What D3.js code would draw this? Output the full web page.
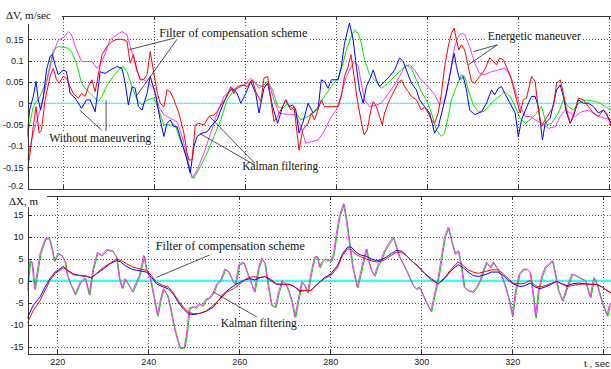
<!DOCTYPE html>
<html>
<head>
<meta charset="utf-8">
<script src="https://cdn.jsdelivr.net/npm/d3@7"></script>
<style>
  body { margin: 0; background: #fff; overflow: hidden; }
  svg { display: block; }
  .note { font-family: "Liberation Serif", "Times New Roman", serif; font-size: 12px; fill: #111; }
  .ylab { font-family: "Liberation Serif", "Times New Roman", serif; font-size: 11px; fill: #111; }
  .tlab { font-family: "Liberation Sans", Arial, sans-serif; font-size: 9.5px; fill: #222; }
</style>
</head>
<body>
<svg id="chart" width="611" height="369"></svg>
<script>
// ticks
const tTicks = [220, 240, 260, 280, 300, 320, 340];
const dvTicks = [-0.2, -0.15, -0.1, -0.05, 0, 0.05, 0.1, 0.15];
const dxTicks = [-15, -10, -5, 0, 5, 10, 15];

// top panel: dV, m/sec  -- [t, value]
const dvRed = [[211.9,-0.164],[212.6,-0.125],[213.4,-0.055],[214.0,-0.008],[214.7,-0.070],[215.2,-0.063],[216.0,0.008],[217.1,0.063],[217.8,0.082],[218.5,0.055],[219.1,0.047],[220.0,0.063],[220.7,0.059],[221.5,0.039],[222.2,0.023],[223.3,0.012],[224.0,0.023],[224.8,0.016],[225.5,0.039],[226.3,0.055],[227.0,0.027],[228.5,0.114],[229.6,0.133],[230.7,0.145],[231.8,0.150],[232.9,0.150],[234.0,0.145],[234.7,0.094],[235.4,0.114],[236.2,0.078],[236.9,0.055],[237.6,0.055],[238.4,0.067],[239.1,0.121],[239.9,0.070],[240.6,0.027],[241.3,0.000],[242.1,-0.008],[242.8,0.031],[243.5,0.027],[244.3,0.008],[245.4,-0.023],[246.5,-0.070],[247.2,-0.117],[247.6,-0.133],[248.3,-0.133],[249.0,-0.051],[249.8,-0.047],[250.9,-0.051],[252.0,-0.031],[253.1,-0.027],[253.8,-0.020],[254.9,0.000],[256.0,0.016],[256.8,0.039],[257.5,0.023],[258.2,0.039],[259.3,0.043],[260.4,0.039],[261.5,0.055],[262.3,0.027],[263.4,0.004],[264.1,0.059],[264.9,0.063],[265.6,0.008],[266.3,-0.043],[267.1,-0.031],[268.9,0.008],[270.0,-0.016],[270.7,-0.008],[271.8,-0.110],[272.6,-0.063],[273.8,-0.047],[274.5,-0.023],[275.2,-0.039],[276.7,0.008],[277.4,-0.008],[278.9,-0.008],[280.4,-0.008],[281.1,0.016],[281.8,0.063],[282.6,0.086],[283.2,0.114],[283.9,0.063],[284.6,0.008],[285.4,-0.039],[286.1,-0.074],[286.8,-0.063],[287.6,-0.016],[288.1,0.004],[288.8,-0.008],[289.5,-0.031],[290.1,-0.051],[290.6,-0.023],[291.7,0.008],[292.8,0.031],[293.6,0.047],[294.3,0.055],[295.0,0.039],[295.8,0.027],[296.5,0.016],[297.6,0.008],[298.7,-0.016],[299.4,-0.008],[300.2,-0.023],[300.9,-0.039],[301.6,-0.047],[302.4,-0.023],[303.1,0.023],[303.8,0.086],[304.6,0.133],[305.3,0.164],[305.9,0.176],[306.4,0.149],[306.9,0.125],[307.5,0.137],[308.2,0.125],[309.0,0.086],[309.7,0.051],[310.4,0.047],[311.5,0.063],[312.6,0.078],[313.7,0.106],[314.5,0.098],[315.2,0.090],[315.9,0.106],[316.7,0.102],[317.4,0.086],[318.5,0.055],[319.6,0.008],[320.4,-0.023],[321.1,0.008],[321.8,0.012],[322.9,0.063],[323.7,0.051],[324.4,-0.016],[325.1,-0.055],[325.9,-0.039],[327.7,-0.008],[328.4,0.047],[329.2,0.055],[329.9,0.023],[330.6,-0.016],[331.4,-0.047],[332.5,-0.016],[333.2,0.012],[334.3,0.008],[335.4,-0.008],[336.5,-0.023],[337.6,-0.031],[338.7,-0.016],[339.4,-0.023],[340.4,-0.055]];

const dvBlue = [[211.9,-0.086],[212.6,-0.016],[213.4,0.016],[214.0,0.051],[214.5,0.008],[215.0,-0.016],[215.6,0.012],[216.3,0.078],[217.1,0.110],[217.6,0.114],[218.2,0.090],[218.9,0.067],[220.0,0.078],[220.7,0.074],[221.5,0.023],[222.6,0.012],[224.0,-0.012],[225.1,0.008],[225.9,0.008],[227.0,-0.020],[228.1,0.074],[229.2,0.070],[230.3,0.078],[231.8,0.086],[232.9,0.082],[233.6,0.047],[234.3,-0.004],[235.1,0.039],[235.8,0.035],[236.5,-0.008],[237.3,-0.016],[238.4,0.023],[239.1,0.063],[240.2,0.023],[241.3,-0.039],[242.1,-0.078],[242.8,-0.047],[243.5,-0.039],[244.3,-0.055],[245.0,-0.055],[246.1,-0.094],[247.2,-0.133],[247.9,-0.164],[248.7,-0.102],[249.4,-0.078],[250.5,-0.070],[251.6,-0.067],[252.7,-0.051],[253.8,-0.039],[254.9,-0.008],[256.0,0.020],[257.1,0.035],[258.2,0.023],[259.0,0.000],[260.1,0.023],[261.2,0.051],[262.3,0.023],[263.0,-0.023],[264.1,0.035],[264.9,0.047],[266.0,-0.008],[267.1,-0.047],[268.2,-0.008],[268.9,0.008],[269.6,-0.008],[270.4,-0.004],[271.1,-0.016],[271.8,-0.070],[272.6,-0.047],[273.8,0.000],[274.9,-0.023],[276.0,-0.012],[276.7,0.055],[277.4,0.051],[278.2,0.035],[278.9,0.055],[280.4,0.055],[281.1,0.086],[281.8,0.141],[282.6,0.176],[282.9,0.188],[283.7,0.149],[284.4,0.086],[285.1,0.031],[285.9,0.000],[286.6,0.039],[287.3,0.055],[288.1,0.078],[288.8,0.055],[289.5,0.039],[290.6,0.051],[291.7,0.063],[292.8,0.078],[293.9,0.106],[294.7,0.098],[295.4,0.078],[296.5,0.047],[297.6,0.031],[298.3,0.008],[299.4,-0.008],[300.5,-0.023],[301.6,-0.070],[302.4,-0.055],[303.5,-0.008],[304.2,0.023],[305.3,0.086],[305.9,0.117],[306.4,0.086],[307.1,0.055],[307.9,0.063],[308.6,0.031],[309.3,-0.016],[310.4,-0.027],[311.9,-0.020],[313.0,0.000],[314.1,0.031],[314.8,0.020],[315.6,0.035],[316.3,0.039],[317.0,0.023],[318.2,0.000],[319.3,-0.023],[320.0,-0.078],[320.7,-0.039],[322.2,0.000],[322.9,0.016],[323.7,0.016],[324.4,-0.008],[325.3,-0.086],[325.9,-0.047],[327.0,-0.035],[328.4,0.031],[329.2,0.043],[329.9,0.016],[330.6,-0.023],[331.4,-0.047],[332.1,-0.031],[333.2,0.008],[334.3,0.000],[335.4,0.000],[336.5,-0.008],[337.6,-0.023],[338.7,-0.016],[339.4,-0.027],[340.4,-0.047]];

const dvGreen = [[211.9,-0.086],[213.4,-0.008],[214.9,0.016],[216.3,0.051],[217.8,0.125],[218.9,0.133],[220.0,0.131],[221.1,0.129],[221.8,0.121],[222.9,0.094],[224.0,0.047],[225.1,0.031],[226.6,0.016],[227.7,0.004],[228.5,0.016],[229.6,0.043],[231.0,0.063],[232.5,0.082],[233.2,0.086],[234.0,0.074],[235.1,0.039],[236.2,0.008],[237.3,-0.004],[238.4,0.008],[239.9,0.012],[241.0,-0.016],[242.1,-0.051],[243.5,-0.051],[244.6,-0.051],[245.7,-0.086],[246.8,-0.117],[247.9,-0.164],[248.7,-0.176],[250.1,-0.149],[251.6,-0.117],[253.1,-0.078],[254.6,-0.039],[256.0,0.008],[257.5,0.031],[259.0,0.039],[260.4,0.047],[261.9,0.051],[263.0,0.035],[264.1,0.043],[264.9,0.051],[266.0,0.031],[267.1,-0.008],[268.2,-0.012],[269.3,0.000],[270.7,-0.016],[272.2,-0.039],[274.5,-0.027],[276.0,-0.008],[277.4,0.016],[278.9,0.039],[280.4,0.059],[281.5,0.094],[282.2,0.125],[283.3,0.157],[284.0,0.172],[284.8,0.164],[285.5,0.141],[286.2,0.102],[287.3,0.067],[288.4,0.055],[289.9,0.035],[291.4,0.047],[292.8,0.063],[294.3,0.078],[295.4,0.090],[296.5,0.082],[297.6,0.055],[298.7,0.027],[299.8,0.008],[300.9,-0.023],[302.0,-0.063],[303.1,-0.078],[303.8,-0.070],[304.6,-0.031],[305.3,0.008],[306.4,0.039],[307.5,0.067],[308.2,0.063],[309.0,0.031],[310.1,-0.004],[311.2,-0.020],[312.3,-0.020],[313.4,-0.008],[314.8,0.008],[316.3,0.020],[317.0,0.027],[318.2,0.016],[319.3,-0.008],[320.4,-0.035],[321.5,-0.047],[322.6,-0.039],[323.7,-0.027],[325.1,-0.008],[326.2,-0.051],[327.3,-0.047],[328.8,-0.023],[329.9,0.008],[331.0,-0.008],[332.1,-0.016],[333.2,0.000],[334.7,0.008],[336.9,0.004],[338.0,0.000],[339.1,-0.008],[340.4,-0.016]];

const dvMagenta = [[211.9,-0.141],[213.4,-0.070],[214.9,-0.016],[216.3,0.047],[217.8,0.117],[218.9,0.149],[220.0,0.153],[221.1,0.168],[221.8,0.161],[222.9,0.125],[224.0,0.098],[225.1,0.098],[226.3,0.098],[227.4,0.082],[228.1,0.090],[228.8,0.106],[230.3,0.149],[231.8,0.161],[232.9,0.168],[234.0,0.161],[234.7,0.133],[235.4,0.110],[236.2,0.074],[236.9,0.059],[238.4,0.051],[239.9,0.035],[241.0,-0.008],[242.1,-0.027],[243.5,-0.035],[245.0,-0.043],[246.1,-0.078],[247.2,-0.125],[248.3,-0.176],[249.4,-0.157],[250.9,-0.117],[252.4,-0.070],[253.8,-0.023],[255.3,0.016],[256.8,0.031],[258.2,0.035],[259.7,0.043],[261.2,0.059],[262.6,0.043],[264.1,0.039],[265.2,0.047],[266.3,0.008],[267.4,-0.023],[269.3,-0.027],[271.1,-0.027],[272.2,-0.055],[273.3,-0.094],[274.5,-0.090],[276.0,-0.086],[277.1,-0.070],[278.2,-0.047],[278.9,-0.031],[280.0,-0.016],[281.1,0.020],[282.2,0.063],[283.3,0.086],[284.0,0.098],[284.8,0.086],[285.5,0.047],[286.2,0.008],[287.3,-0.008],[288.8,-0.004],[289.9,0.000],[291.0,0.016],[292.5,0.039],[293.9,0.063],[295.0,0.086],[296.1,0.090],[297.2,0.078],[298.3,0.059],[299.4,0.047],[300.5,0.035],[301.6,0.020],[302.7,-0.004],[303.8,0.008],[304.9,0.063],[306.0,0.133],[306.8,0.157],[307.5,0.164],[308.2,0.161],[309.3,0.133],[310.4,0.094],[311.5,0.070],[312.6,0.067],[314.1,0.074],[315.6,0.078],[317.0,0.082],[318.2,0.067],[319.3,0.031],[320.4,-0.008],[321.5,-0.031],[322.6,-0.031],[323.7,-0.039],[325.1,-0.047],[326.6,-0.059],[328.1,-0.055],[329.2,-0.031],[330.3,-0.016],[331.4,-0.023],[332.5,-0.031],[333.9,-0.020],[335.4,-0.016],[337.6,-0.031],[339.1,-0.035],[340.4,-0.039]];

// bottom panel: dX, m  -- [t, value]
const dxMagenta = [[213.3,-2.2],[214.0,4.6],[214.4,4.3],[215.0,-1.8],[216.2,6.2],[217.3,9.6],[218.2,9.8],[218.9,6.9],[219.3,4.6],[220.2,6.3],[221.0,5.8],[221.7,4.3],[222.2,1.2],[222.9,-0.7],[223.9,-3.0],[225.0,-0.3],[226.1,0.7],[227.0,-3.1],[227.8,2.7],[228.8,6.5],[229.7,5.8],[230.8,7.1],[232.1,6.9],[233.0,5.4],[233.6,0.7],[234.2,-1.6],[234.9,0.5],[235.6,-0.8],[236.5,-2.4],[237.3,-0.5],[238.0,1.2],[238.7,4.3],[239.0,5.8],[239.6,2.4],[240.4,0.7],[241.2,-3.6],[242.0,-7.9],[242.6,-4.5],[243.3,-1.8],[244.2,-3.3],[244.9,-6.4],[245.6,-10.2],[246.4,-13.5],[247.0,-15.3],[247.9,-15.1],[248.4,-12.1],[249.0,-6.2],[249.7,-5.9],[250.5,-6.0],[251.2,-5.2],[251.9,-5.6],[252.7,-4.1],[253.4,-3.9],[254.3,-2.6],[255.0,-0.7],[255.9,0.2],[256.8,2.7],[257.6,2.2],[258.5,0.1],[259.1,-0.8],[259.9,3.7],[260.9,4.3],[261.8,1.7],[262.7,-0.8],[263.3,-2.4],[264.2,3.0],[264.9,5.2],[265.6,4.0],[266.4,-1.6],[267.1,-5.6],[267.9,-5.9],[268.6,-2.6],[269.4,0.1],[270.1,-0.5],[270.8,-2.2],[271.6,-4.9],[272.2,-8.3],[273.0,-3.9],[273.7,-0.1],[274.4,-1.1],[275.0,-2.6],[275.7,1.6],[276.5,5.4],[277.1,5.6],[277.6,3.1],[278.1,4.3],[278.8,5.0],[280.1,4.6],[280.7,6.2],[281.3,10.7],[282.0,14.9],[282.9,17.6],[283.5,13.8],[284.2,8.4],[284.9,3.1],[285.9,-1.4],[286.6,1.6],[287.4,5.4],[287.9,7.3],[288.4,4.6],[289.0,2.4],[289.7,1.2],[290.4,3.5],[291.2,5.0],[291.9,6.9],[293.0,8.8],[293.8,10.0],[294.5,7.7],[295.2,5.4],[296.0,3.9],[296.7,2.4],[297.4,0.8],[298.2,-1.1],[298.9,-1.8],[299.6,-1.4],[300.1,-2.6],[300.9,-4.5],[302.1,-6.9],[302.9,-3.0],[303.7,0.8],[304.4,5.4],[305.1,10.0],[305.9,12.2],[306.6,9.2],[307.4,6.2],[308.1,6.9],[308.8,3.1],[309.4,-1.4],[310.3,-2.2],[311.4,-2.4],[312.1,-1.4],[312.9,0.1],[313.6,2.4],[314.3,4.3],[315.1,3.1],[315.8,4.3],[316.5,3.1],[317.6,1.2],[318.5,-1.4],[319.3,-4.5],[320.0,-7.9],[320.7,-2.2],[321.5,1.6],[322.4,2.7],[323.2,2.7],[323.9,2.0],[324.6,-3.7],[325.1,-8.3],[325.7,-2.2],[326.5,1.2],[327.2,3.1],[328.1,4.0],[328.8,4.6],[329.4,1.6],[330.1,-2.2],[331.0,-4.5],[332.0,-1.4],[333.1,1.6],[334.0,1.2],[334.9,0.7],[336.0,0.1],[337.1,-3.7],[337.9,0.8],[338.6,-0.7],[339.6,-4.5],[340.8,-7.9],[341.3,-5.6],[341.8,-5.2]];
// the green trace lies under the magenta one, only its edge shows
const dxGreen = dxMagenta;

const dxBlue = [[213.3,-8.7],[214.7,-5.6],[216.2,-3.7],[217.3,-1.4],[218.4,0.5],[219.5,2.0],[220.6,2.7],[221.3,3.3],[222.1,2.5],[223.5,1.6],[225.0,1.2],[226.4,1.0],[227.5,0.7],[228.6,1.6],[230.1,2.7],[231.6,3.9],[233.0,4.6],[233.8,4.4],[234.9,3.5],[236.3,2.7],[237.4,2.4],[238.5,2.2],[239.6,2.0],[240.7,0.8],[241.8,-0.7],[243.3,-1.4],[244.4,-1.8],[245.5,-3.0],[246.6,-4.9],[247.7,-6.4],[248.8,-7.5],[249.9,-7.7],[251.4,-7.4],[252.8,-6.9],[254.3,-6.0],[255.4,-4.5],[256.5,-3.0],[257.9,-1.8],[259.4,-0.7],[260.9,0.1],[262.3,0.5],[263.4,0.2],[264.5,0.7],[265.6,1.0],[266.7,0.2],[268.2,-0.8],[269.7,-0.8],[271.1,-0.8],[272.2,-1.4],[273.3,-2.4],[274.3,-2.2],[275.7,-2.2],[277.2,-0.7],[278.7,0.7],[280.1,1.6],[281.6,3.5],[282.7,6.2],[283.8,7.7],[284.6,7.7],[285.7,6.5],[286.8,5.8],[287.9,5.6],[289.0,5.0],[290.1,4.6],[291.2,4.8],[292.3,5.4],[293.4,6.2],[294.5,6.9],[295.6,6.8],[296.7,5.8],[297.8,4.6],[299.3,3.3],[300.7,1.7],[302.2,0.5],[303.7,-0.7],[305.1,0.5],[306.6,2.4],[308.1,3.7],[309.2,3.0],[310.3,2.0],[311.4,1.2],[312.5,1.0],[314.0,1.4],[315.4,2.0],[316.9,2.0],[318.0,1.2],[319.1,0.1],[320.2,-0.7],[321.7,-1.3],[322.8,-1.1],[323.9,-0.5],[325.0,-1.4],[326.1,-1.8],[327.2,-1.4],[328.7,-0.7],[329.8,-0.1],[330.9,-0.7],[332.0,-1.1],[333.1,-0.7],[334.6,-0.5],[336.0,-0.7],[337.5,-0.8],[338.6,-0.8],[339.7,-1.4],[340.8,-2.2],[341.8,-2.8]];

const dxRed = [[213.3,-9.8],[214.7,-6.8],[216.2,-4.5],[217.3,-2.2],[218.4,0.1],[219.5,1.7],[220.6,2.4],[221.3,3.0],[222.1,2.5],[223.5,1.4],[225.0,1.2],[226.4,1.1],[227.5,0.7],[228.6,1.7],[230.1,3.0],[231.6,4.0],[233.0,5.0],[234.1,4.6],[235.2,3.9],[236.7,3.1],[238.2,2.7],[239.6,2.4],[240.7,1.2],[241.8,-0.3],[243.3,-1.1],[244.4,-1.4],[245.5,-2.8],[246.6,-4.5],[247.7,-6.0],[248.8,-7.1],[249.9,-7.5],[251.4,-7.4],[252.8,-6.8],[254.3,-5.6],[255.8,-4.1],[257.2,-2.6],[258.7,-1.8],[260.1,-0.7],[261.6,0.5],[263.1,1.0],[264.5,0.7],[265.6,1.0],[266.7,0.5],[268.2,-0.7],[269.7,-0.8],[271.1,-0.8],[272.2,-1.4],[273.3,-2.2],[274.3,-2.2],[275.7,-2.2],[277.2,-0.7],[278.7,0.5],[280.1,1.2],[281.6,3.1],[282.7,5.8],[283.8,7.3],[284.6,7.1],[285.7,6.0],[286.8,5.4],[287.9,5.0],[289.0,4.6],[290.1,4.3],[291.2,4.5],[292.3,5.0],[293.4,5.8],[294.5,6.5],[295.6,6.5],[296.7,5.8],[297.8,4.6],[299.3,3.3],[300.7,1.7],[302.2,0.2],[303.7,-0.7],[305.1,0.7],[306.6,2.7],[308.1,4.3],[309.2,3.5],[310.3,2.5],[311.4,2.0],[312.5,1.7],[314.0,2.1],[315.4,2.5],[316.9,2.5],[318.0,1.6],[319.1,0.5],[320.2,-0.5],[321.7,-0.7],[322.8,-0.5],[323.9,0.1],[325.0,-1.1],[326.1,-1.4],[327.2,-1.1],[328.7,-0.5],[329.8,-0.1],[330.9,-0.7],[332.0,-1.3],[333.1,-1.1],[334.6,-0.8],[336.0,-0.7],[337.5,-0.8],[338.6,-0.8],[339.7,-1.4],[340.8,-2.2],[341.8,-2.8]];

// annotations: text anchor [t, v], leader lines from [t, v] to [t, v]
const dvNotes = [
  { text: "Filter of compensation scheme", at: [241.1, 0.155], len: 148,
    leaders: [[[244.5, 0.153], [234.6, 0.126]], [[245.0, 0.150], [236.2, 0.019]]] },
  { text: "Without maneuvering", at: [216.9, -0.090], len: 102,
    leaders: [[[229.4, -0.065], [229.4, 0.007]], [[228.4, -0.063], [223.6, -0.016]]] },
  { text: "Kalman filtering", at: [259.3, -0.157], len: 76,
    leaders: [[[262.1, -0.141], [252.2, -0.032]], [[262.1, -0.145], [250.0, -0.071]]] },
  { text: "Energetic maneuver", at: [313.3, 0.148], len: 93,
    leaders: [[[315.4, 0.137], [310.1, 0.121]], [[315.4, 0.137], [309.0, 0.090]]] }
];
const dxNotes = [
  { text: "Filter of compensation scheme", at: [241.65, 7.0], len: 149,
    leaders: [[[253.5, 5.9], [241.8, 0.8]]] },
  { text: "Kalman filtering", at: [255.9, -10.5], len: 76,
    leaders: [[[263.8, -8.2], [254.25, -2.5]]] }
];

const svg = d3.select("#chart");
const defs = svg.append("defs");

function drawPanel(id, x, y, yTicks, series, zeroWidth, showT) {
  const [x0, x1] = x.range();
  const [yb, yt] = y.range();
  const g = svg.append("g").attr("id", id);

  defs.append("clipPath").attr("id", id + "-clip").append("rect")
    .attr("x", x0).attr("y", yt).attr("width", x1 - x0).attr("height", yb - yt);

  // dotted grid
  const grid = g.append("g").attr("stroke", "#555").attr("stroke-width", 1)
    .attr("stroke-dasharray", "1,2").attr("shape-rendering", "crispEdges");
  grid.selectAll(".gv").data(tTicks).join("line").attr("class", "gv")
    .attr("x1", d => Math.round(x(d)) + 0.5).attr("x2", d => Math.round(x(d)) + 0.5)
    .attr("y1", yt).attr("y2", yb);
  grid.selectAll(".gh").data(yTicks).join("line").attr("class", "gh")
    .attr("x1", x0).attr("x2", x1)
    .attr("y1", d => Math.round(y(d)) + 0.5).attr("y2", d => Math.round(y(d)) + 0.5);

  const plot = g.append("g").attr("clip-path", `url(#${id}-clip)`);
  plot.append("line")
    .attr("x1", x0).attr("x2", x1).attr("y1", y(0)).attr("y2", y(0))
    .attr("stroke", "#33ffff").attr("stroke-width", zeroWidth);

  const line = d3.line().x(d => x(d[0])).y(d => y(d[1]));
  plot.selectAll(".curve").data(series).join("path").attr("class", "curve")
    .attr("d", d => line(d.values))
    .attr("transform", d => d.shift ? `translate(${d.shift},${d.shift})` : null)
    .attr("fill", "none").attr("stroke", d => d.color).attr("stroke-width", 1)
    .attr("stroke-linejoin", "round");

  // axes, ticks point inward
  const axes = g.append("g").attr("color", "#333");
  axes.append("g").attr("transform", `translate(${x0},0)`)
    .call(d3.axisLeft(y).tickValues(yTicks).tickSizeInner(-4).tickSizeOuter(0)
      .tickPadding(4).tickFormat(d => String(d)));
  axes.append("g").attr("transform", `translate(0,${yb})`)
    .call(d3.axisBottom(x).tickValues(tTicks).tickSizeInner(-4).tickSizeOuter(0)
      .tickPadding(5).tickFormat(d => (showT && d !== 340) ? String(d) : ""));
  axes.append("g").attr("transform", `translate(0,${yt})`)
    .call(d3.axisTop(x).tickValues(tTicks).tickSizeInner(-4).tickSizeOuter(0).tickFormat(""));
  axes.selectAll("text").attr("font-family", "'Liberation Sans', Arial, sans-serif")
    .attr("font-size", 9).attr("fill", "#222");
  axes.selectAll("path, line").attr("shape-rendering", "crispEdges");
  return g;
}

function drawNotes(g, x, y, notes) {
  notes.forEach(n => {
    const px = x(n.at[0]), py = y(n.at[1]);
    g.append("rect").attr("x", px - 1).attr("y", py - 9.5)
      .attr("width", n.len + 2).attr("height", 12.5).attr("fill", "#fff");
    g.append("text").attr("class", "note").attr("x", px).attr("y", py)
      .attr("textLength", n.len).attr("lengthAdjust", "spacingAndGlyphs").text(n.text);
    g.selectAll(null).data(n.leaders).join("line")
      .attr("x1", d => x(d[0][0])).attr("y1", d => y(d[0][1]))
      .attr("x2", d => x(d[1][0])).attr("y2", d => y(d[1][1]))
      .attr("stroke", "#222").attr("stroke-width", 0.8);
  });
}

// top panel
const xTop = d3.scaleLinear().domain([212.13, 343]).range([27.5, 623]);
const yTop = d3.scaleLinear().domain([-0.2, 0.2058]).range([188.5, 15.5]);
const gTop = drawPanel("dv", xTop, yTop, dvTicks, [
  { color: "#00e600", values: dvGreen },
  { color: "#ff33ff", values: dvMagenta },
  { color: "#0000ff", values: dvBlue },
  { color: "#ff0000", values: dvRed }
], 1.2, false);
drawNotes(gTop, xTop, yTop, dvNotes);
// lift the lowest label a little so it clears the lower panel
gTop.selectAll(".tick text").filter(d => d === -0.2).attr("dy", "-0.05em");

// bottom panel
const xBot = d3.scaleLinear().domain([213.45, 343]).range([27.5, 617]);
const yBot = d3.scaleLinear().domain([-16.55, 19.44]).range([353.5, 195.5]);
const gBot = drawPanel("dx", xBot, yBot, dxTicks, [
  { color: "#00d000", values: dxGreen, shift: 0.8 },
  { color: "#ff33ff", values: dxMagenta },
  { color: "#0000ff", values: dxBlue },
  { color: "#ff0000", values: dxRed }
], 2, true);
drawNotes(gBot, xBot, yBot, dxNotes);

// axis titles on white patches
svg.append("rect").attr("x", 0).attr("y", 0).attr("width", 62).attr("height", 24).attr("fill", "#fff");
svg.append("text").attr("class", "ylab").attr("x", 6).attr("y", 19).text("\u0394V, m/sec");
svg.append("rect").attr("x", 0).attr("y", 191).attr("width", 47).attr("height", 16).attr("fill", "#fff");
svg.append("text").attr("class", "ylab").attr("x", 9).attr("y", 205).text("\u0394X, m");
svg.append("text").attr("class", "tlab").attr("x", 584).attr("y", 367)
  .attr("textLength", 26).attr("lengthAdjust", "spacingAndGlyphs").text("t , sec");
</script>
</body>
</html>
